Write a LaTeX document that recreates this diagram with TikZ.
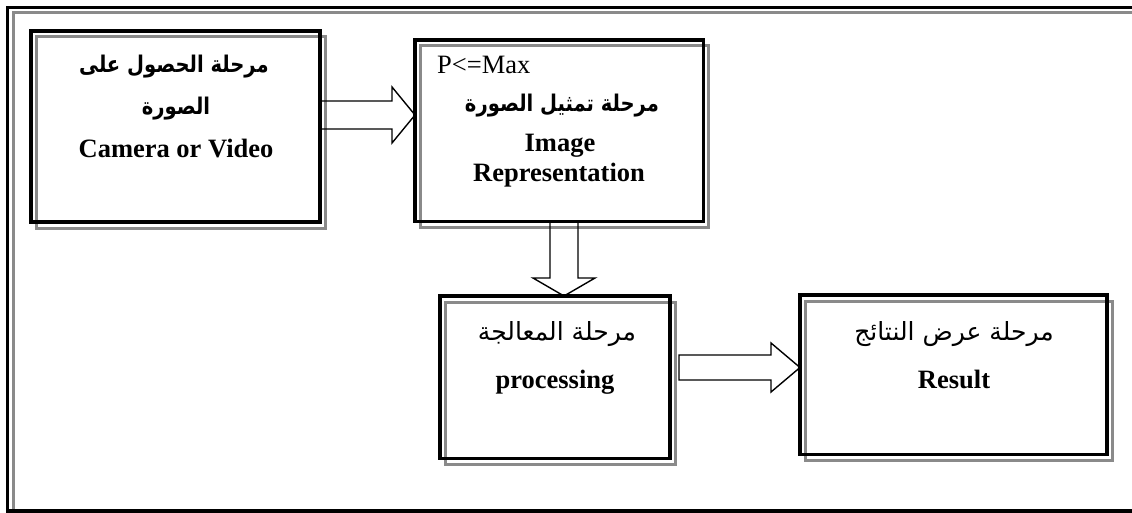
\documentclass[tikz,border=0pt]{standalone}
\usepackage{fontspec}
\setmainfont{Liberation Serif}
\newfontfamily\arabicfont[Script=Arabic]{DejaVu Sans}
\newfontfamily\arabicbold[Script=Arabic, FakeStretch=0.85]{DejaVu Sans Bold}
\TeXXeTstate=1
\usetikzlibrary{calc}
\definecolor{shadowgray}{HTML}{8A8A8A}
\tikzset{
  stagebox/.style={draw=black, line width=3.4pt, rectangle, inner sep=0pt, outer sep=0pt},
  shadowline/.style={draw=shadowgray, line width=3pt},
  blockarrow/.style={draw=black, line width=1.4pt, line join=miter},
  entext/.style={font=\fontsize{26.5}{30}\selectfont\bfseries, anchor=base, inner sep=0pt},
  artext/.style={font=\fontsize{23}{26}\selectfont\arabicbold, anchor=base, inner sep=0pt},
  artextr/.style={font=\fontsize{25}{28}\selectfont\arabicfont, anchor=base, inner sep=0pt},
}
\newcommand\rblockarrow[5]{%
  \draw[blockarrow] let \p1=(#1), \p2=(#2) in
    (\x1,\y1+#3) -- (\x2-#5,\y1+#3) -- (\x2-#5,\y1+#4) -- (\x2,\y1)
    -- (\x2-#5,\y1-#4) -- (\x2-#5,\y1-#3) -- (\x1,\y1-#3) -- cycle;}
\newcommand\dblockarrow[5]{%
  \draw[blockarrow] let \p1=(#1), \p2=(#2) in
    (\x1-#3,\y1) -- (\x1-#3,\y2+#5) -- (\x1-#4,\y2+#5) -- (\x1,\y2)
    -- (\x1+#4,\y2+#5) -- (\x1+#3,\y2+#5) -- (\x1+#3,\y1) -- cycle;}
\begin{document}
\begin{tikzpicture}[x=1pt,y=-1pt]
\clip (0,0) rectangle (1132,513);
\fill[white] (0,0) rectangle (1132,513);
% outer frame
\draw[shadowline] (13,13) rectangle (1160,560);
\draw[black, line width=3.4pt] (7.5,7.5) rectangle (1150,511);
% boxes
\node[stagebox, minimum width=289pt, minimum height=191pt] (b1) at (175.5,126.5) {};
\node[stagebox, minimum width=288.5pt, minimum height=181.5pt] (b2) at (559.25,130.75) {};
\node[stagebox, minimum width=230pt, minimum height=162.5pt] (b3) at (555,377.25) {};
\node[stagebox, minimum width=307pt, minimum height=159.5pt] (b4) at (953.5,374.75) {};
% shadows
\foreach \b in {b1,b2,b3,b4}{
  \draw[shadowline] ($(\b.south west)+(5,6)$) rectangle ($(\b.north east)+(5,6)$);
}
% redraw black boxes on top
\foreach \b in {b1,b2,b3,b4}{
  \draw[black, line width=3.4pt] (\b.south west) rectangle (\b.north east);
}
% arrows
\coordinate (a1) at (0,115);
\coordinate (a2) at (564,0);
\coordinate (a3) at (0,367.5);
\rblockarrow{b1.east |- a1}{b2.west |- a1}{14pt}{28pt}{23pt}
\dblockarrow{b2.south -| a2}{b3.north -| a2}{14pt}{31pt}{18pt}
\rblockarrow{$(b3.east |- a3)+(9,0)$}{b4.west |- a3}{12.5pt}{24.5pt}{29pt}
% texts box 1
\node[artext] (t1a) at (174,73) {\beginR مرحلة الحصول على\endR};
\node[artext] (t1b) at (176,115) {\beginR الصورة\endR};
\node[entext] (t1c) at (176,158) {Camera or Video};
% texts box 2
\node[font=\fontsize{26.5}{30}\selectfont, anchor=base west, inner sep=0pt] (t2p) at (437,74) {P<=Max};
\node[artext] (t2a) at (562,112) {\beginR مرحلة تمثيل الصورة\endR};
\node[entext] (t2b) at (560,152) {Image};
\node[entext] (t2c) at (559,182) {Representation};
% texts box 3
\node[artextr] (t3a) at (557,340) {\beginR مرحلة المعالجة\endR};
\node[entext] (t3b) at (555,388) {processing};
% texts box 4
\node[artextr] (t4a) at (954,340) {\beginR مرحلة عرض النتائج\endR};
\node[entext] (t4b) at (954,388) {Result};
\end{tikzpicture}
\end{document}
